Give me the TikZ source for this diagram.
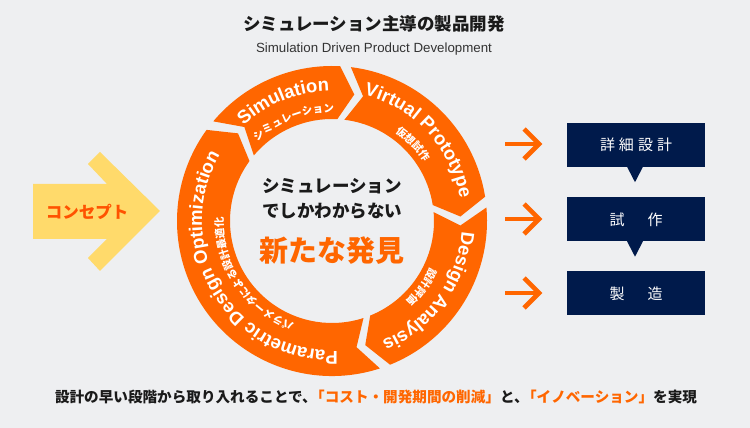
\documentclass[tikz,border=0pt]{standalone}
\usepackage{fontspec}
\setmainfont{Liberation Sans}
\newfontfamily\jp{Noto Sans CJK JP}
\usetikzlibrary{decorations.text,calc}
\definecolor{bg}{HTML}{EEEFF1}
\definecolor{ring}{HTML}{FF6600}
\definecolor{navy}{HTML}{001A4B}
\definecolor{yel}{HTML}{FFDA6B}
\definecolor{conc}{HTML}{FF5200}
\definecolor{ink}{HTML}{1A1A1A}
\definecolor{sub}{HTML}{333333}
\newcommand\engfont{\bfseries\fontsize{18.5}{18.5}\selectfont}
\newcommand\jpsmall{\jp\bfseries\fontsize{10.5}{10.5}\selectfont}
\newcommand\ringtext[4]{\path[decorate,decoration={text along path,text align=center,text color=white,text={|#3|#4}}] ({#1+80}:#2) arc[start angle={#1+80},end angle={#1-80},radius=#2];}
\begin{document}
\begin{tikzpicture}[x=1pt,y=1pt,
  boxnode/.style={fill=navy,minimum width=138pt,minimum height=44pt,inner sep=0pt,text=white,font=\jp\fontsize{15}{15}\selectfont},
  arrowline/.style={draw=ring,line width=4.6pt,miter limit=10}]
\fill[bg] (0,0) rectangle (750,428);
\useasboundingbox (0,0) rectangle (750,428);
% title
\node[font=\jp\bfseries\fontsize{17.5}{17.5}\selectfont,text=ink,inner sep=0] (title) at (374,404) {シミュレーション主導の製品開発};
\node[font=\fontsize{13.3}{13.3}\selectfont,text=sub,inner sep=0] (subtitle) at (374,379) {Simulation Driven Product Development};
% concept arrow
\fill[yel] (33,244) -- (107,244) -- (88,264) -- (100,276) -- (160,217) -- (100,157) -- (88,170) -- (107,189) -- (33,189) -- cycle;
\node[font=\jp\bfseries\fontsize{16.5}{16.5}\selectfont,text=conc,inner sep=0] (concept) at (87,216) {コンセプト};
% ring
\begin{scope}[shift={(332,207)}]
  \def\Ro{155}\def\Ri{102}\def\Rm{128.5}\def\gp{2}\def\dl{7}
  \foreach \a/\b in {142/85, 85/7, 7/-70, -70/-218} {
    \pgfmathsetmacro\ta{\a-\gp}
    \pgfmathsetmacro\tn{\a-\gp-\dl}
    \pgfmathsetmacro\hb{\b+\gp}
    \pgfmathsetmacro\ht{\b+\gp-\dl}
    \fill[ring] (\ta:\Ro) arc[start angle=\ta,end angle=\hb,radius=\Ro] -- (\ht:\Rm) -- (\hb:\Ri) arc[start angle=\hb,end angle=\ta,radius=\Ri] -- (\tn:\Rm) -- cycle;
  }
  \ringtext{112}{130}{\engfont}{Simulation}
  \ringtext{111}{109}{\jpsmall}{シミュレーション}
  \ringtext{43}{130}{\engfont}{Virtual Prototype}
  \ringtext{43.5}{109}{\jpsmall}{仮想試作}
  \ringtext{-36}{130}{\engfont}{Design Analysis}
  \ringtext{-36}{109}{\jpsmall}{設計評価}
  \ringtext{-149}{130}{\engfont}{Parametric Design Optimization}
  \ringtext{-146}{109}{\jpsmall}{パラメータによる設計最適化}
\end{scope}
% center text
\node[font=\jp\bfseries\fontsize{17.5}{17.5}\selectfont,text=ink,inner sep=0] (c1) at (332,242) {シミュレーション};
\node[font=\jp\bfseries\fontsize{17.5}{17.5}\selectfont,text=ink,inner sep=0] (c2) at (332,217) {でしかわからない};
\node[font=\jp\bfseries\fontsize{29}{29}\selectfont,text=ring,inner sep=0] (c3) at (332,177) {新たな発見};
% right arrows
\foreach \yy/\nm in {284/ra, 209/rb, 135/rc} {
  \coordinate (\nm s) at (505,\yy);
  \coordinate (\nm e) at (539,\yy);
  \coordinate (\nm u) at (524,\yy+15);
  \coordinate (\nm d) at (524,\yy-15);
  \draw[arrowline] (\nm s) -- (\nm e);
  \draw[arrowline] (\nm u) -- (\nm e) -- (\nm d);
}
% boxes
\node[boxnode] (b1) at (636,283) {詳\hspace{4pt}細\hspace{4pt}設\hspace{4pt}計};
\node[boxnode] (b2) at (636,208.5) {試\hspace{23pt}作};
\node[boxnode] (b3) at (636,134.5) {製\hspace{23pt}造};
\fill[navy] ($(b1.south)+(-9,0.5)$) -- ($(b1.south)+(7,0.5)$) -- ($(b1.south)+(-1,-15)$) -- cycle;
\fill[navy] ($(b2.south)+(-9,0.5)$) -- ($(b2.south)+(7,0.5)$) -- ($(b2.south)+(-1,-15)$) -- cycle;
% bottom text
\node[font=\jp\bfseries\fontsize{14.6}{14.6}\selectfont,text=ink,inner sep=0] (bottom) at (376,31) {設計の早い段階から取り入れることで、\hspace{-0.45em}\textcolor{ring}{「コスト・開発期間の削減」}と、\hspace{-0.45em}\textcolor{ring}{「イノベーション」}を実現};
\end{tikzpicture}
\end{document}
